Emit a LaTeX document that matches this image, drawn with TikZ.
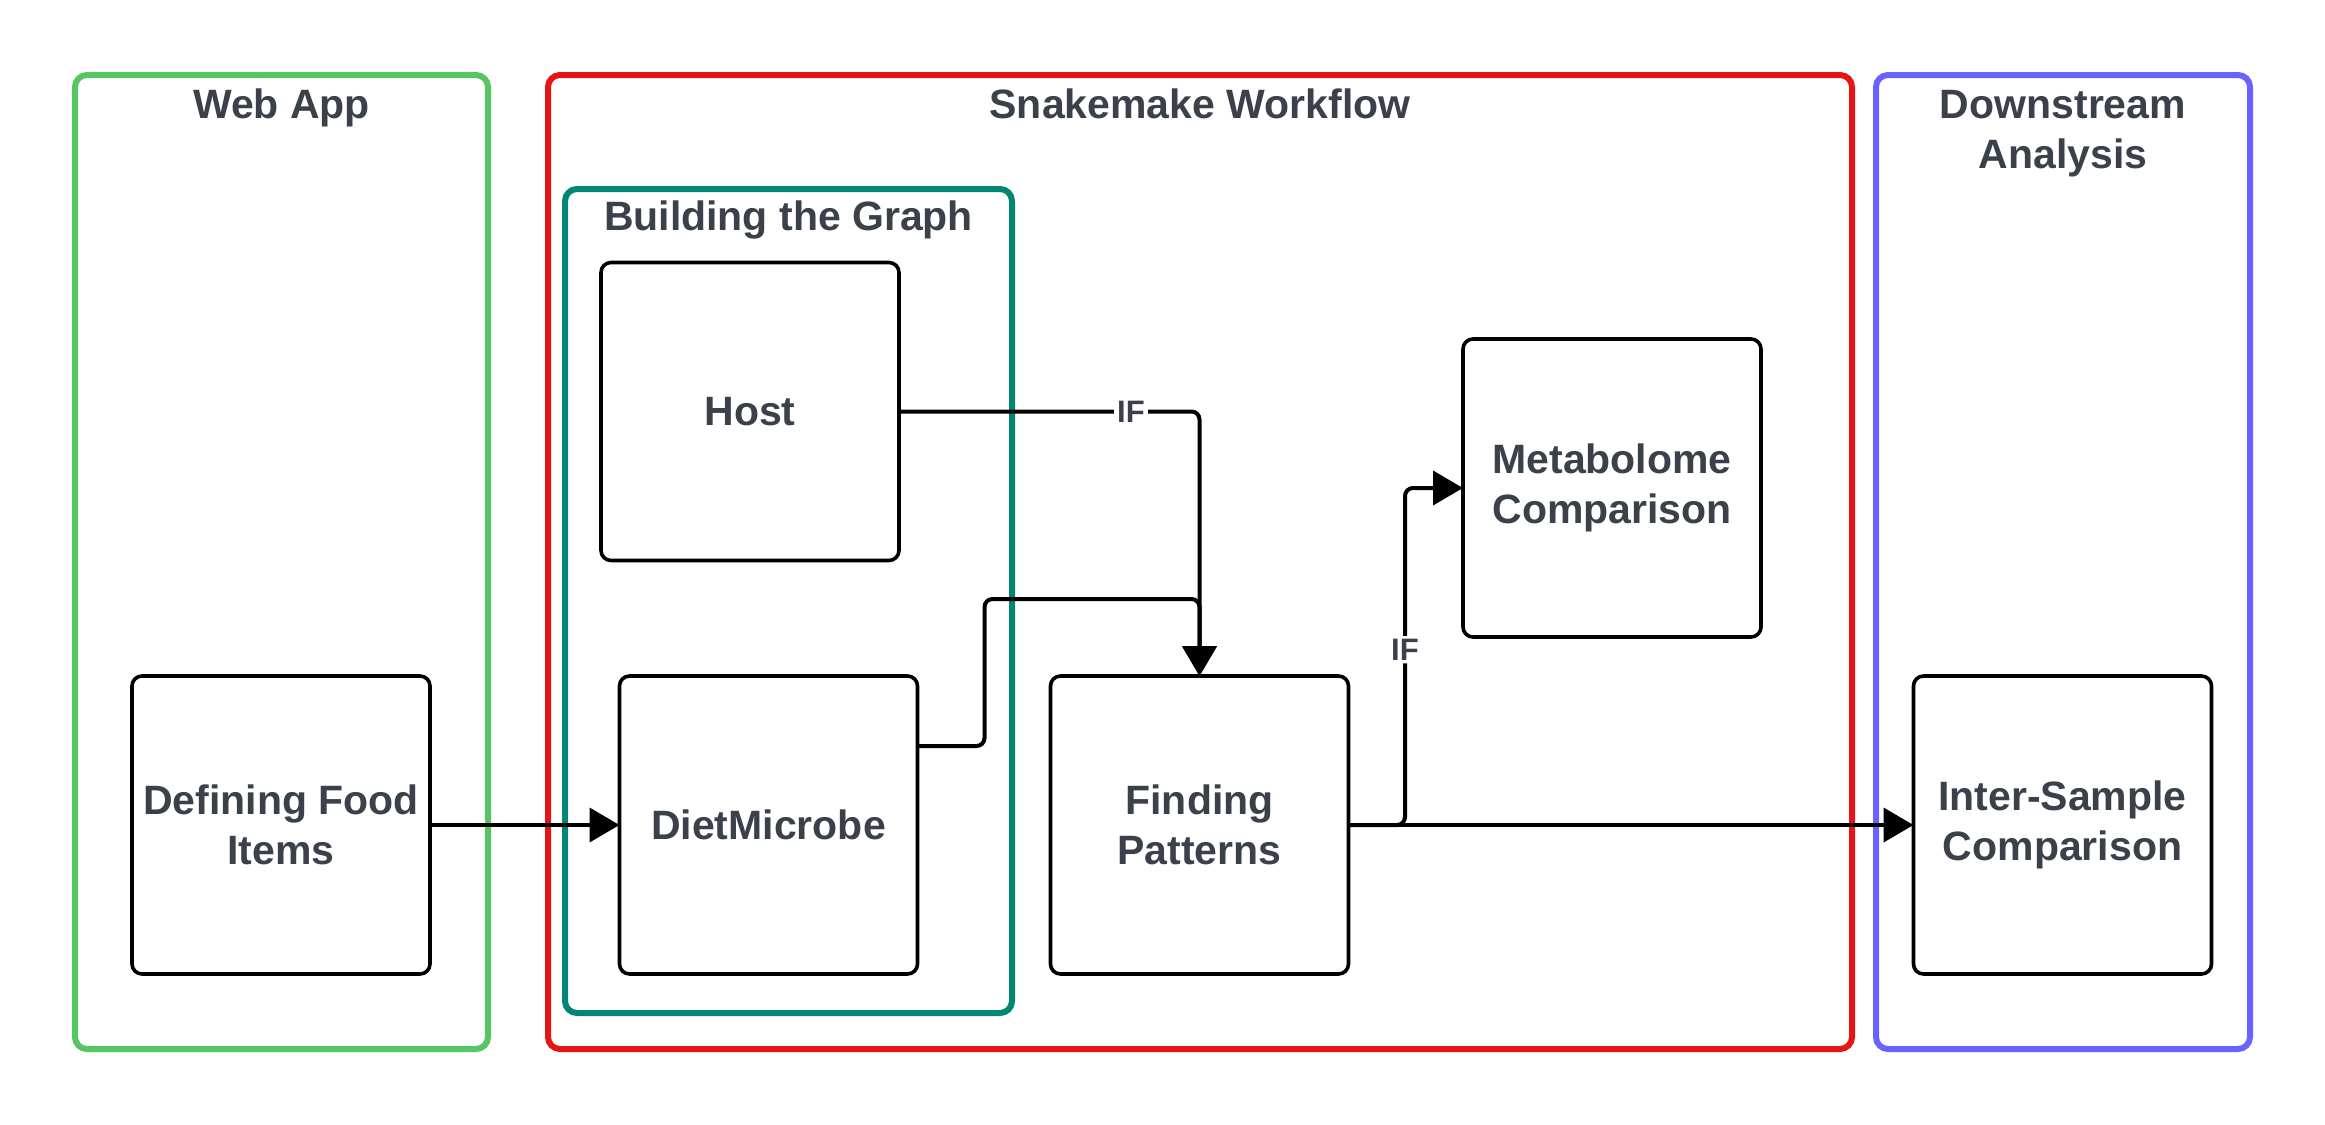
\documentclass[tikz,border=0pt]{standalone}
\usepackage{fontspec}
\setmainfont{Liberation Sans}
\usetikzlibrary{arrows.meta,positioning,fit,calc}

\definecolor{inkgray}{RGB}{58,65,74}
\definecolor{webgreen}{RGB}{87,197,98}
\definecolor{flowred}{RGB}{230,20,20}
\definecolor{graphteal}{RGB}{0,134,114}
\definecolor{downblue}{RGB}{104,99,255}

\begin{document}
\begin{tikzpicture}[
  x=0.5pt, y=-0.5pt,
  font=\fontsize{20.5}{25}\selectfont\bfseries,
  text=inkgray,
  box/.style={draw=black, line width=1.8pt, rounded corners=5pt, align=center, minimum width=149pt, minimum height=149pt, inner sep=2pt, outer sep=0pt},
  group/.style={draw=#1, line width=3pt, rounded corners=6pt, inner sep=0pt, outer sep=0pt},
  title/.style={align=center, inner sep=0pt, anchor=base},
  arr/.style={-{Triangle[length=15pt,width=17pt]}, line width=2pt, draw=black, rounded corners=4pt},
  cond/.style={fill=white, inner sep=1.5pt, font=\fontsize{15.5}{17}\selectfont\bfseries}
]
\useasboundingbox (0,0) rectangle (2325,1125);

% groups
\node[group=webgreen, fit={(75,75) (488,1049)}] (webapp) {};
\node[group=flowred, fit={(548,75) (1852,1049)}] (flow) {};
\node[group=graphteal, fit={(565,189) (1012,1013)}] (graph) {};
\node[group=downblue, fit={(1876,75) (2250,1049)}] (down) {};
\node[title] (webtitle) at (281.5,118) {Web App};
\node[title] (flowtitle) at (1200,118) {Snakemake Workflow};
\node[title] (graphtitle) at (788.5,230) {Building the Graph};
\node[title] (downtitle) at (2063,168) {Downstream\\Analysis};

% steps
\node[box] (food) at (281,825) {Defining Food\\Items};
\node[box, right=94.75pt of food] (diet) {DietMicrobe};
\node[box, above=57.75pt of diet, xshift=-9.25pt] (host) {Host};
\node[box, right=66.5pt of diet] (find) {Finding\\Patterns};
\node[box, above right=19.5pt and 57.25pt of find.north east] (meta) {Metabolome\\Comparison};
\node[box, right=282.5pt of find] (inter) {Inter-Sample\\Comparison};

\draw[arr] (food) -- (diet);
\draw[arr] (host.east) -| node[cond, pos=0.386] (ifhost) {IF} (find.north);
\draw[arr] ([yshift=39.5pt]diet.east) -- ++(33.5pt,0) |- ($(find.north)+(0,38.5pt)$) -- (find.north);
\draw[arr] (find.east) -- ++(28.25pt,0) |- node[cond, pos=0.26] (ifmeta) {IF} (meta.west);
\draw[arr] (find) -- (inter);
\end{tikzpicture}
\end{document}
